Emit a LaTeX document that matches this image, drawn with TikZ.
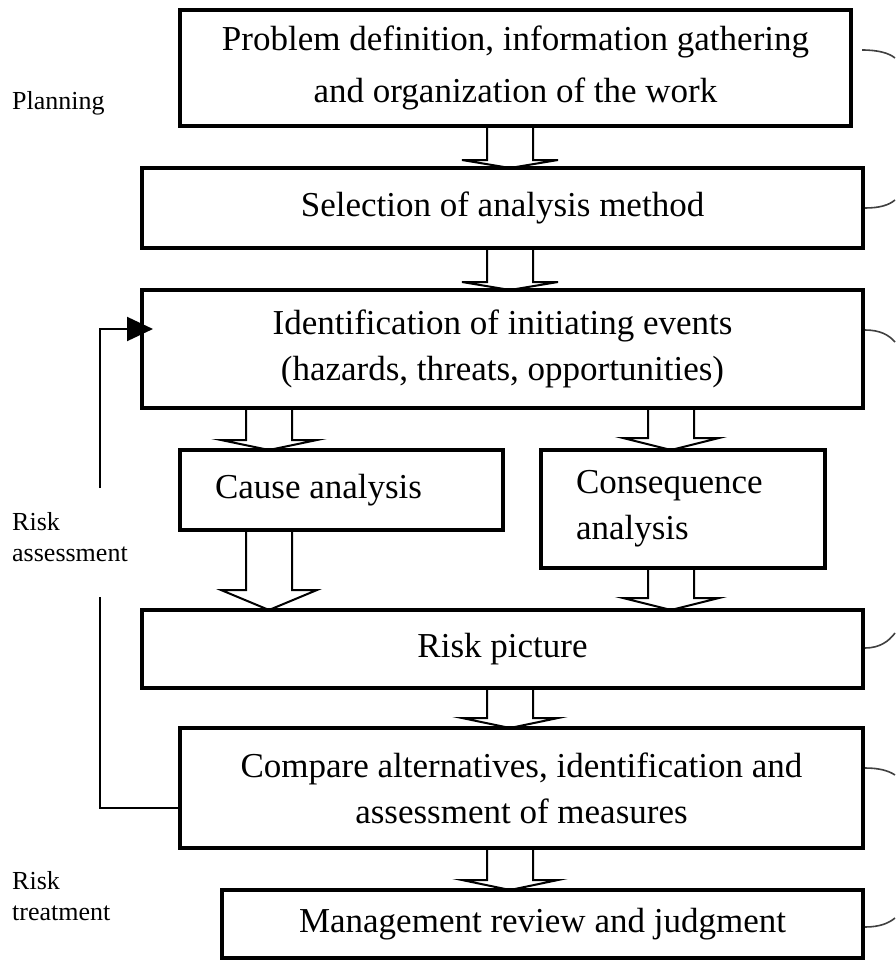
\documentclass[tikz,border=0pt]{standalone}
\usepackage{fontspec}
\setmainfont{Liberation Serif}
\usetikzlibrary{calc,arrows.meta}
\tikzset{
  stage/.style={draw, line width=3.3pt, outer sep=0pt, inner sep=0pt, align=center,
                font=\fontsize{35}{46}\selectfont},
  sidetext/.style={anchor=west, inner sep=0pt, align=left, font=\fontsize{26}{31}\selectfont},
  hollow/.style={line width=2pt, line join=miter},
  feedback/.style={line width=2pt},
  braceend/.style={line width=1.6pt, black!75},
}
% hollow block arrow: source node, target node, x of the shaft centre, head depth
\newcommand\hollowarrow[4]{%
  \draw[hollow] (#3-23,0 |- #1.south)
    -- ($(#3-23,0 |- #2.north)+(0,-#4)$)
    -- ($(#3-48,0 |- #2.north)+(0,-#4)$)
    -- (#3,0 |- #2.north)
    -- ($(#3+48,0 |- #2.north)+(0,-#4)$)
    -- ($(#3+23,0 |- #2.north)+(0,-#4)$)
    -- (#3+23,0 |- #1.south);
}
\begin{document}
\begin{tikzpicture}[x=1pt,y=-1pt]
\fill[white] (0,0) rectangle (895,964);
\useasboundingbox (0,0) rectangle (895,964);

% process stages
\node[stage, minimum width=671pt, minimum height=116pt, font=\fontsize{35}{52}\selectfont] (prob) at (515.5,68)
  {Problem definition, information gathering\\and organization of the work};
\node[stage, minimum width=721pt, minimum height=80pt] (select) at (502.5,208)
  {Selection of analysis method};
\node[stage, minimum width=721pt, minimum height=118pt] (ident) at (502.5,349)
  {Identification of initiating events\\(hazards, threats, opportunities)};
\node[stage, text width=253pt, inner xsep=35pt, align=flush left, minimum height=80pt] (cause) at (341.5,490)
  {Cause analysis};
\node[stage, text width=214pt, inner xsep=35pt, align=flush left, minimum height=118pt] (conseq) at (683,509)
  {\raisebox{-5pt}{Consequence}\\\raisebox{-5pt}{analysis}};
\node[stage, minimum width=721pt, minimum height=78pt] (risk) at (502.5,649)
  {Risk picture};
\node[stage, minimum width=683pt, minimum height=120pt] (compare) at (521.5,788)
  {Compare alternatives, identification and\\assessment of measures};
\node[stage, minimum width=641pt, minimum height=68pt] (review) at (542.5,924)
  {Management review and judgment};

% flow between stages
\hollowarrow{prob}{select}{510}{8}
\hollowarrow{select}{ident}{510}{8}
\hollowarrow{ident}{cause}{269}{10}
\hollowarrow{ident}{conseq}{671}{12}
\hollowarrow{cause}{risk}{269}{20}
\hollowarrow{conseq}{risk}{671}{12}
\hollowarrow{risk}{compare}{510}{10}
\hollowarrow{compare}{review}{510}{10}

% iteration loop back to the identification step
\coordinate (gaplow) at (100,597);
\coordinate (gaphigh) at (100,488);
\draw[feedback] ($(compare.west)+(0,20)$) -| (gaplow);
\draw[feedback, -{Triangle[length=26pt,width=24pt]}] (gaphigh) |- ($(ident.west)+(11,-20)$);

% phase labels
\node[sidetext] (planlbl) at (12,103) {Planning};
\node[sidetext] (assesslbl) at (12,537) {Risk\\assessment};
\node[sidetext] (treatlbl) at (12,896) {Risk\\treatment};

% ends of the grouping braces on the right
\draw[braceend] (862,50) .. controls (878,50) and (889,53) .. (895,58);
\draw[braceend] (865,208) .. controls (880,208) and (889,205) .. (895,200);
\draw[braceend] (865,330) .. controls (880,330) and (889,335) .. (895,342);
\draw[braceend] (865,648) .. controls (880,648) and (889,641) .. (895,633);
\draw[braceend] (865,768) .. controls (880,768) and (889,771) .. (895,775);
\draw[braceend] (865,927) .. controls (880,927) and (889,923) .. (895,918);
\end{tikzpicture}
\end{document}
